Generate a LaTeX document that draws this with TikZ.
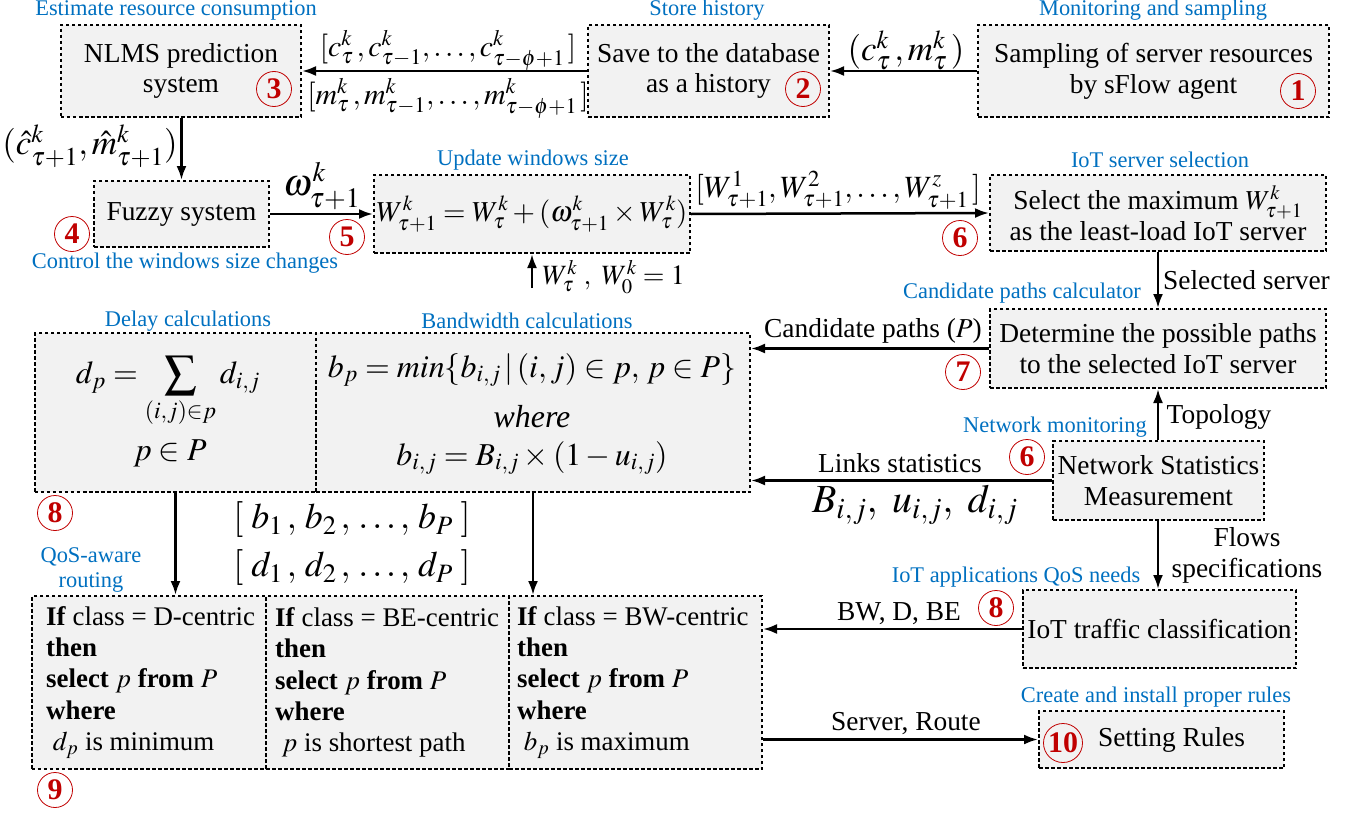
\documentclass[tikz,border=0pt]{standalone}
\usepackage{mathptmx}
\usepackage{fontspec}
\setmainfont{Liberation Serif}
\usetikzlibrary{arrows.meta,calc}
\definecolor{bl}{RGB}{0,112,192}
\definecolor{nr}{RGB}{192,0,0}
\definecolor{bg}{RGB}{242,242,242}
\tikzset{
 box/.style={draw=black, fill=bg, line width=2bp, dash pattern=on 3.5bp off 2.5bp, inner sep=0pt, align=center, font=\fontsize{27.5}{31}\selectfont},
 arr/.style={line width=2.5bp, -{Latex[length=14bp,width=10bp]}},
 lab/.style={font=\fontsize{27.5}{31}\selectfont, inner sep=0pt, align=center},
 mlab/.style={font=\fontsize{32}{36}\selectfont, inner sep=0pt},
 blu/.style={text=bl, font=\fontsize{22.5}{24}\selectfont, inner sep=0pt, align=center},
 num/.style={circle, draw=nr, line width=0.8bp, text=nr, font=\fontsize{30}{30}\selectfont\bfseries, minimum size=35bp, inner sep=0pt},
 rtext/.style={font=\fontsize{27}{31.5}\selectfont, inner sep=0pt, align=left, anchor=west},
}
\begin{document}
\begin{tikzpicture}[x=1bp,y=-1bp]
\useasboundingbox (0,0) rectangle (1353,812);
% boxes
\node[box, minimum width=351bp, minimum height=92bp] (b1) at (1153.5,71) {Sampling of server resources\\by sFlow agent};
\node[box, minimum width=241bp, minimum height=92bp] (b2) at (708.5,71) {Save to the database\\as a history};
\node[box, minimum width=240bp, minimum height=92bp] (b3) at (181,71) {NLMS prediction\\system};
\node[box, minimum width=175bp, minimum height=66bp] (b4) at (181.5,214) {Fuzzy system};
\node[box, minimum width=316bp, minimum height=78bp, font=\fontsize{29}{34}\selectfont] (b5) at (532,214) {$W^k_{\tau+1}=W^k_{\tau}+(\omega^k_{\tau+1}\times W^k_{\tau})$};
\node[box, minimum width=336bp, minimum height=76bp] (b6) at (1158,213) {Select the maximum $W^k_{\tau+1}$\\as the least-load IoT server};
\node[box, minimum width=336bp, minimum height=79bp] (b7) at (1158,348.5) {Determine the possible paths\\to the selected IoT server};
\node[box, minimum width=211bp, minimum height=79bp] (nsm) at (1158.5,480.5) {Network Statistics\\Measurement};
\node[box, minimum width=273bp, minimum height=78bp] (iot) at (1159.5,629) {IoT traffic classification};
\node[box, minimum width=245bp, minimum height=57bp] (set) at (1161.5,739.5) {\hspace*{20bp}Setting Rules};
\node[box, minimum width=281bp, minimum height=159bp] (dc) at (175.5,412.5) {};
\node[box, minimum width=434bp, minimum height=159bp] (bc) at (533,412.5) {};
\node[box, minimum width=234bp, minimum height=173bp] (r1) at (149,682.5) {};
\node[box, minimum width=243bp, minimum height=173bp] (r2) at (387.5,682.5) {};
\node[box, minimum width=253bp, minimum height=173bp] (r3) at (635.5,682.5) {};
% cell contents
\node[mlab] (dp) at (168,392) {$\displaystyle d_p=\sum_{(i,j)\in p} d_{i,j}$};
\node[mlab] (pP) at (170,453) {$p\in P$};
\node[mlab] (bp) at (532,370) {$b_p=min\{b_{i,j}\,|\,(i,j)\in p,\,p\in P\}$};
\node[mlab] (wh) at (532,417) {\textit{where}};
\node[mlab] (bij) at (532,458) {$b_{i,j}=B_{i,j}\times(1-u_{i,j})$};
\node[rtext] (t1) at ($(r1.west)+(15,0)$) {\textbf{If} class = D-centric\\\textbf{then}\\\textbf{select} $p$ \textbf{from} $P$\\\textbf{where}\\\ $d_p$ is minimum};
\node[rtext] (t2) at ($(r2.west)+(10,0)$) {\textbf{If} class = BE-centric\\\textbf{then}\\\textbf{select} $p$ \textbf{from} $P$\\\textbf{where}\\\ $p$ is shortest path};
\node[rtext] (t3) at ($(r3.west)+(9,0)$) {\textbf{If} class = BW-centric\\\textbf{then}\\\textbf{select} $p$ \textbf{from} $P$\\\textbf{where}\\\ $b_p$ is maximum};
% numbers
\node[num] (n1) at (1298,91) {1};
\node[num] (n2) at (803,89) {2};
\node[num] (n3) at (274,89) {3};
\node[num] (n4) at (72,234) {4};
\node[num] (n5) at (347,237) {5};
\node[num] (n6) at (960,238) {6};
\node[num] (n7) at (963,372) {7};
\node[num] (n6b) at (1027,457) {6};
\node[num] (n8) at (55,513) {8};
\node[num] (n8b) at (996,608) {8};
\node[num] (n9) at (55,790) {9};
\node[num, minimum size=39bp] (n10) at (1063,743) {10};
% blue labels
\node[blu] at (176,10) {Estimate resource consumption};
\node[blu] at (707,10) {Store history};
\node[blu] at (1153,10) {Monitoring and sampling};
\node[blu] at (533,160) {Update windows size};
\node[blu] at (185,263) {Control the windows size changes};
\node[blu] at (1160,160) {IoT server selection};
\node[blu] at (1022,293) {Candidate paths calculator};
\node[blu] at (188,321) {Delay calculations};
\node[blu] at (527,321) {Bandwidth calculations};
\node[blu] at (1055,427) {Network monitoring};
\node[blu, font=\fontsize{22.5}{25}\selectfont] at (91,570) {QoS-aware\\routing};
\node[blu] at (1016,577) {IoT applications QoS needs};
\node[blu] at (1156,697) {Create and install proper rules};
% connectors
\coordinate (w0) at (532,288);
\draw[arr] (b1.west) -- (b2.east);
\draw[arr] (b2.west) -- (b3.east);
\draw[arr] (b3.south -| b4.north) -- (b4.north);
\draw[arr] (b4.east) -- (b5.west);
\draw[arr] (b5.east) -- (b6.west);
\draw[arr] (w0) -- (b5.south);
\draw[arr] (b6.south) -- (b7.north);
\draw[arr] (b7.west) -- (b7.west -| bc.east);
\draw[arr] (nsm.north -| b7.south) -- (b7.south);
\draw[arr] (nsm.west) -- (nsm.west -| bc.east);
\draw[arr] (nsm.south -| b7.south) -- (b7.south |- iot.north);
\draw[arr] (iot.west) -- (iot.west -| r3.east);
\draw[arr] (dc.south) -- (dc.south |- r1.north);
\draw[arr] (bc.south) -- (bc.south |- r1.north);
\draw[arr] (set.west -| r3.east) -- (set.west);
% connector labels
\node[mlab, font=\fontsize{35}{38}\selectfont] at (906,50) {$(c^k_{\tau}\,,m^k_{\tau}\,)$};
\node[mlab, font=\fontsize{30}{34}\selectfont] at (448,50) {$[c^k_{\tau}\,,c^k_{\tau-1},\ldots,c^k_{\tau-\phi+1}\,]$};
\node[mlab, font=\fontsize{30}{34}\selectfont] at (448,98) {$[m^k_{\tau}\,,m^k_{\tau-1},\ldots,m^k_{\tau-\phi+1}\,]$};
\node[mlab, font=\fontsize{35}{38}\selectfont] at (90,146) {$(\hat{c}^k_{\tau+1},\hat{m}^k_{\tau+1})$};
\node[mlab, font=\fontsize{38}{40}\selectfont] at (322,186) {$\omega^k_{\tau+1}$};
\node[mlab, font=\fontsize{31}{34}\selectfont] at (838,190) {$[W^1_{\tau+1},W^2_{\tau+1},\ldots,W^z_{\tau+1}\,]$};
\node[mlab, font=\fontsize{28}{30}\selectfont, anchor=west] at (542,277) {$W^k_{\tau}\;,\ W^k_0=1$};
\node[lab, anchor=west] at (1163,280) {Selected server};
\node[lab] at (873,331) {Candidate paths ($P$)};
\node[lab] at (1219,417) {Topology};
\node[lab] at (900,463) {Links statistics};
\node[mlab, font=\fontsize{40}{42}\selectfont] at (915,505) {$B_{i,j},\ u_{i,j},\ d_{i,j}$};
\node[lab] at (1247,555) {Flows\\specifications};
\node[lab] at (899,614) {BW, D, BE};
\node[lab] at (906,724) {Server, Route};
\node[mlab, font=\fontsize{36}{38}\selectfont] at (352,520) {$[\;b_1\,,\,b_2\,,\,\ldots,\,b_P\;]$};
\node[mlab, font=\fontsize{36}{38}\selectfont] at (352,568) {$[\;d_1\,,\,d_2\,,\,\ldots,\,d_P\;]$};
\end{tikzpicture}
\end{document}
